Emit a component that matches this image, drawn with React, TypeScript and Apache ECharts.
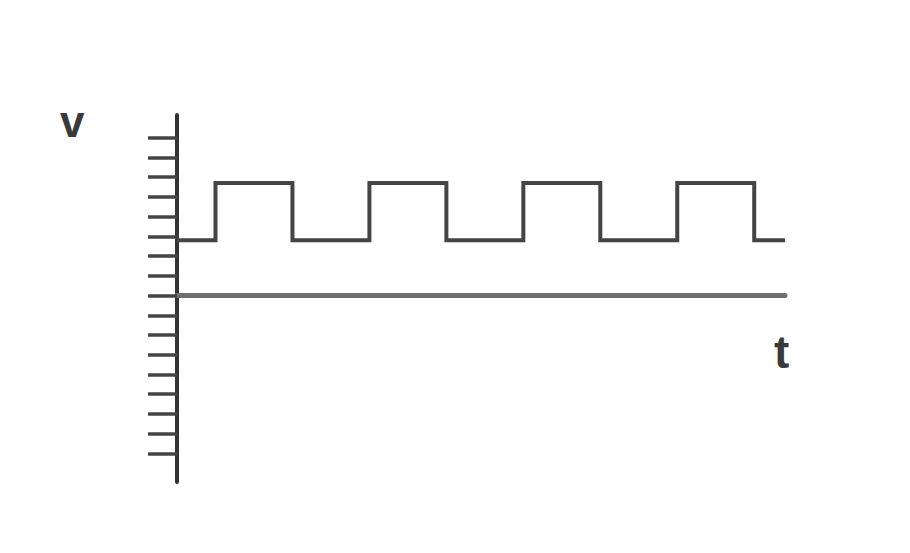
import React, { useEffect, useRef } from "react";
import * as echarts from "echarts";

// Square wave: time (t) and voltage (v) points
const tValues = [0, 0.5, 0.5, 1.5, 1.5, 2.5, 2.5, 3.5, 3.5, 4.5, 4.5, 5.5, 5.5, 6.5, 6.5, 7.5, 7.5, 7.9];
const vValues = [2.8, 2.8, 5.7, 5.7, 2.8, 2.8, 5.7, 5.7, 2.8, 2.8, 5.7, 5.7, 2.8, 2.8, 5.7, 5.7, 2.8, 2.8];
// Tick marks on the v axis
const vTicks = [-8, -7, -6, -5, -4, -3, -2, -1, 0, 1, 2, 3, 4, 5, 6, 7, 8];
const axisLabels = { v: "v", t: "t" };

export default function App() {
  const ref = useRef<HTMLDivElement>(null);
  useEffect(() => {
    if (!ref.current) return;
    const chart = echarts.init(ref.current, null, { renderer: "svg" });
    const data = tValues.map((t, i) => [t, vValues[i]]);
    chart.setOption({
      animation: false,
      backgroundColor: "#ffffff",
      grid: { left: 177, top: 115, width: 608, height: 367 },
      xAxis: {
        type: "value",
        min: 0,
        max: 7.9,
        axisLine: { show: true, onZero: true, lineStyle: { color: "#6e6e6e", width: 5 } },
        axisTick: { show: false },
        axisLabel: { show: false },
        splitLine: { show: false },
      },
      yAxis: {
        type: "value",
        min: -9.45,
        max: 9.15,
        axisLine: { show: true, onZero: false, lineStyle: { color: "#333333", width: 4 } },
        axisTick: {
          show: true,
          customValues: vTicks,
          length: 29,
          inside: false,
          lineStyle: { color: "#444444", width: 3.5 },
        },
        axisLabel: { show: false },
        splitLine: { show: false },
      },
      graphic: [
        {
          type: "text",
          left: 60,
          top: 99,
          style: {
            text: axisLabels.v,
            font: "bold 44px 'Liberation Sans', Arial, sans-serif",
            fill: "#3a3a3a",
          },
        },
        {
          type: "text",
          left: 774,
          top: 329,
          style: {
            text: axisLabels.t,
            font: "bold 46px 'Liberation Sans', Arial, sans-serif",
            fill: "#3a3a3a",
          },
        },
      ],
      series: [
        {
          type: "line",
          data,
          symbol: "none",
          lineStyle: { color: "#444444", width: 4, join: "miter" },
          silent: true,
        },
      ],
    });
    return () => chart.dispose();
  }, []);
  return (
    <div
      ref={ref}
      style={{ position: "fixed", left: 0, top: 0, width: 910, height: 553, background: "#fff" }}
    />
  );
}
